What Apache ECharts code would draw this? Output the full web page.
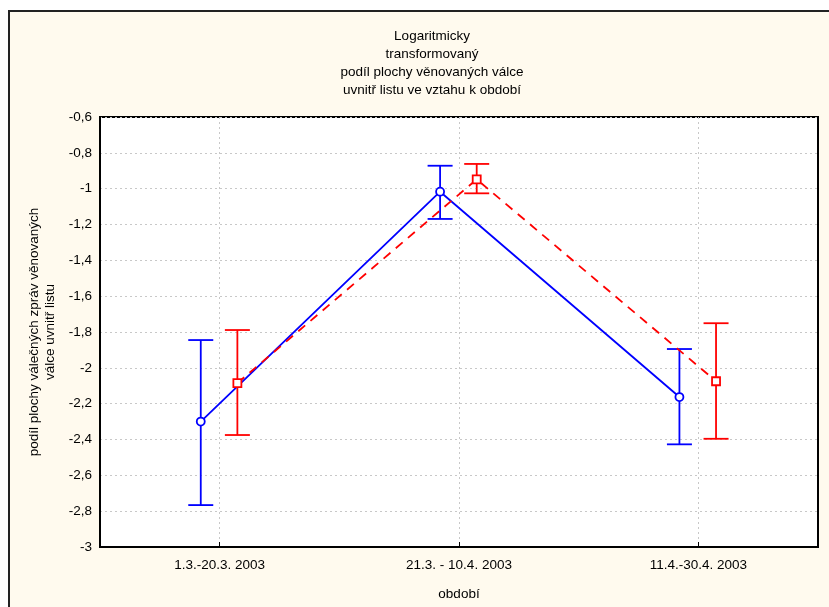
<!DOCTYPE html>
<html><head><meta charset="utf-8">
<script src="https://cdn.jsdelivr.net/npm/echarts@6/dist/echarts.min.js"></script>
<style>html,body{margin:0;padding:0;background:#fff}#c{width:829px;height:607px}</style>
</head><body><div id="c"></div>
<script>
const categories = ['1.3.-20.3. 2003', '21.3. - 10.4. 2003', '11.4.-30.4. 2003'];
const blueMean  = [-2.30, -1.017, -2.163];
const blueUpper = [-1.845, -0.872, -1.895];
const blueLower = [-2.766, -1.169, -2.427];
const redMean   = [-2.085, -0.948, -2.075];
const redUpper  = [-1.789, -0.862, -1.751];
const redLower  = [-2.375, -1.026, -2.396];
const titleLines = ['Logaritmicky', 'transformovaný', 'podíl plochy věnovaných válce', 'uvnitř listu ve vztahu k období'];
const yName = ['podíl plochy válečných zpráv věnovaných', 'válce uvnitř listu'];
const xName = 'období';

const BLUE = '#0000ff', RED = '#ff0000';
const offB = -0.079, offR = 0.074;
const pos = categories.map((c, i) => i + 1);
const bluePts = pos.map((p, i) => [p + offB, blueMean[i]]);
const redPts = pos.map((p, i) => [p + offR, redMean[i]]);
const blueErr = pos.map((p, i) => [p + offB, blueUpper[i], blueLower[i]]);
const redErr = pos.map((p, i) => [p + offR, redUpper[i], redLower[i]]);

function errRender(color) {
  return function (params, api) {
    const x = api.value(0);
    const a = api.coord([x, api.value(1)]);
    const b = api.coord([x, api.value(2)]);
    const w = 12.5;
    const st = { stroke: color, lineWidth: 1.8 };
    return { type: 'group', children: [
      { type: 'line', shape: { x1: a[0], y1: a[1], x2: b[0], y2: b[1] }, style: st },
      { type: 'line', shape: { x1: a[0] - w, y1: a[1], x2: a[0] + w, y2: a[1] }, style: st },
      { type: 'line', shape: { x1: b[0] - w, y1: b[1], x2: b[0] + w, y2: b[1] }, style: st }
    ]};
  };
}

const chart = echarts.init(document.getElementById('c'), null, { renderer: 'canvas' });
const FONT = 'Liberation Sans, Arial, sans-serif';
chart.setOption({
  backgroundColor: '#ffffff',
  animation: false,
  textStyle: { fontFamily: FONT },
  graphic: [{
    type: 'rect', z: -100, silent: true,
    shape: { x: 9, y: 11, width: 840, height: 620 },
    style: { fill: '#fffaee', stroke: '#222222', lineWidth: 2 }
  }],
  title: {
    text: titleLines.join('\n'),
    left: 427, top: 22, textAlign: 'center',
    textStyle: { fontSize: 13.5, fontWeight: 'normal', color: '#000', lineHeight: 18, fontFamily: FONT }
  },
  grid: {
    left: 100, right: 11, top: 117, bottom: 60,
    show: true, backgroundColor: '#ffffff', borderColor: '#000', borderWidth: 2
  },
  xAxis: {
    type: 'value', min: 0.5, max: 3.5,
    name: xName, nameLocation: 'middle', nameGap: 40,
    nameTextStyle: { fontSize: 13.5, color: '#000', fontFamily: FONT },
    axisLine: { show: true, lineStyle: { color: '#000', width: 2 } },
    axisTick: { show: true, inside: true, length: 5, customValues: pos, lineStyle: { color: '#000' } },
    axisLabel: { customValues: pos, color: '#000', fontSize: 13.5, margin: 11,
      formatter: v => categories[Math.round(v) - 1] || '' },
    splitLine: { show: true, lineStyle: { color: '#c8c8c8', type: [2, 3], width: 1 } }
  },
  yAxis: {
    type: 'value', min: -3, max: -0.6, interval: 0.2,
    name: yName.join('\n'), nameLocation: 'middle', nameGap: 37,
    nameTextStyle: { fontSize: 13.5, color: '#000', lineHeight: 16, fontFamily: FONT },
    axisLine: { show: true, lineStyle: { color: '#000', width: 2 } },
    axisTick: { show: false },
    axisLabel: { color: '#000', fontSize: 13.5, margin: 8,
      formatter: v => String(+v.toFixed(1)).replace('.', ',') },
    splitLine: { show: true, lineStyle: { color: '#c8c8c8', type: [2, 3], width: 1 } }
  },
  series: [
    { type: 'custom', renderItem: errRender(BLUE), data: blueErr, z: 3, silent: true },
    { type: 'custom', renderItem: errRender(RED), data: redErr, z: 3, silent: true },
    { type: 'line', data: bluePts, z: 4, symbol: 'circle', symbolSize: 8,
      lineStyle: { color: BLUE, width: 1.8 },
      itemStyle: { color: '#fff', borderColor: BLUE, borderWidth: 1.8 } },
    { type: 'line', data: redPts, z: 4, symbol: 'rect', symbolSize: 8,
      lineStyle: { color: RED, width: 1.8, type: [9, 7] },
      itemStyle: { color: '#fff', borderColor: RED, borderWidth: 1.8 } }
  ]
});
</script>
</body></html>
